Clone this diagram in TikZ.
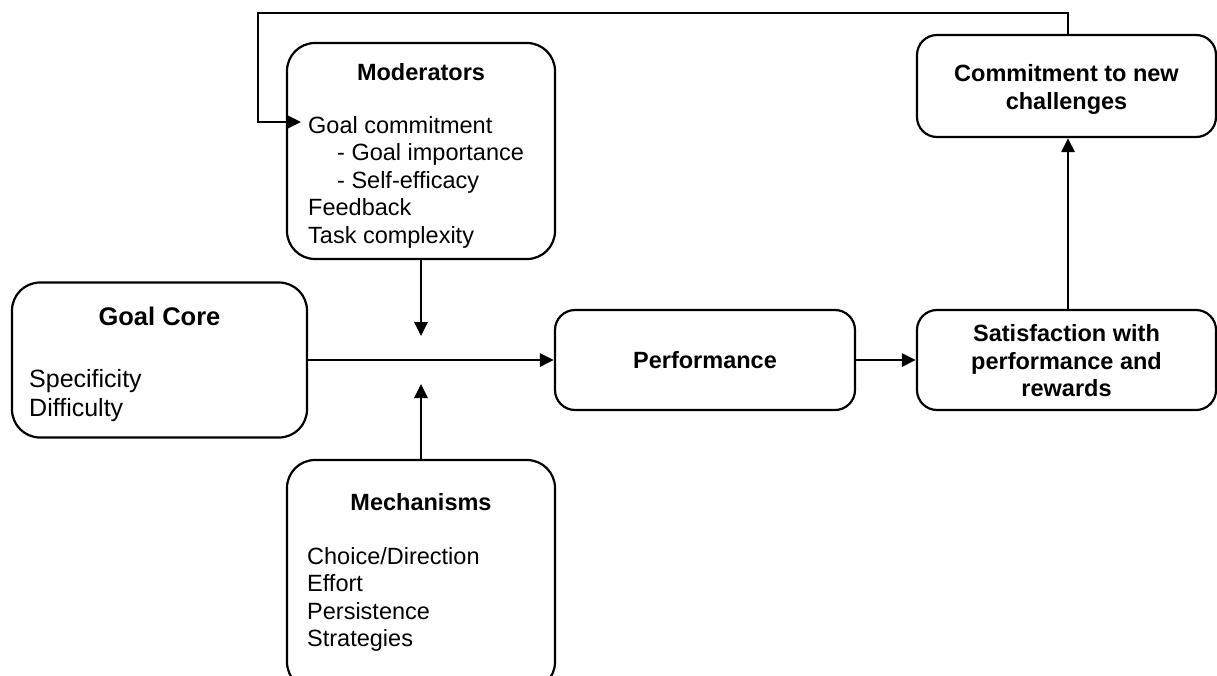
\documentclass[tikz,border=0pt]{standalone}
\usepackage{fontspec}
\setmainfont{Liberation Sans}
\usetikzlibrary{arrows.meta}

\begin{document}
\begin{tikzpicture}[x=1pt,y=-1pt,
  box/.style={draw, line width=2.2pt, rounded corners=#1, inner sep=0pt},
  box/.default=20pt,
  txt/.style={inner sep=0pt, font=\fontsize{23.5}{27.5}\selectfont},
  ttl/.style={inner sep=0pt, font=\fontsize{23.5}{27.5}\selectfont\bfseries},
  gtxt/.style={inner sep=0pt, font=\fontsize{25}{29}\selectfont},
  gttl/.style={inner sep=0pt, font=\fontsize{25.5}{29}\selectfont\bfseries},
  link/.style={line width=2.8pt, -{Triangle[length=14pt,width=13pt]}},
]
\useasboundingbox (0,0) rectangle (1217,675);

% boxes
\node[box=28pt, minimum width=268pt, minimum height=216pt] (mod) at (421,151) {};
\node[box=28pt, minimum width=295pt, minimum height=155pt] (gc) at (159.5,360) {};
\node[box=20pt, minimum width=300pt, minimum height=100pt] (perf) at (705,360) {};
\node[box=20pt, minimum width=299pt, minimum height=100pt] (sat) at (1066.5,360) {};
\node[box=20pt, minimum width=299pt, minimum height=102pt] (com) at (1066.5,86) {};
\node[box=28pt, minimum width=268pt, minimum height=230pt] (mech) at (421,575) {};

% Moderators
\node[ttl, anchor=base] (modt) at (421,80) {Moderators};
\node[txt, anchor=base west] (m1) at (308,133) {Goal commitment};
\node[txt, anchor=base west] (m2) at (337,160.5) {- Goal importance};
\node[txt, anchor=base west] (m3) at (337,188) {- Self-efficacy};
\node[txt, anchor=base west] (m4) at (308,215.5) {Feedback};
\node[txt, anchor=base west] (m5) at (308,243) {Task complexity};

% Goal core
\node[gttl, anchor=base] (gct) at (159.5,325) {Goal Core};
\node[gtxt, anchor=base west] (g1) at (29,387) {Specificity};
\node[gtxt, anchor=base west] (g2) at (29,416) {Difficulty};

% Performance
\node[ttl, anchor=base] (perft) at (705,368) {Performance};

% Satisfaction
\node[ttl, anchor=base] (s1) at (1066.5,341) {Satisfaction with};
\node[ttl, anchor=base] (s2) at (1066.5,369) {performance and};
\node[ttl, anchor=base] (s3) at (1066.5,396) {rewards};

% Commitment
\node[ttl, anchor=base] (c1) at (1066.5,81) {Commitment to new};
\node[ttl, anchor=base] (c2) at (1066.5,109) {challenges};

% Mechanisms
\node[ttl, anchor=base] (mecht) at (421,510) {Mechanisms};
\node[txt, anchor=base west] (k1) at (307,564) {Choice/Direction};
\node[txt, anchor=base west] (k2) at (307,591.5) {Effort};
\node[txt, anchor=base west] (k3) at (307,619) {Persistence};
\node[txt, anchor=base west] (k4) at (307,646) {Strategies};

% connector end points
\coordinate (modtip) at (421,336);
\coordinate (mechtip) at (421,384);
\coordinate (loopin) at (301,122);

% connectors
\draw[link] (gc.east) -- (perf.west);
\draw[link] (mod.south) -- (modtip);
\draw[link] (mech.north) -- (mechtip);
\draw[link] (perf.east) -- (sat.west);
\draw[link] (sat.north -| 1068,0) -- (com.south -| 1068,0);
\draw[link] (com.north -| 1068,0) |- (258,13) |- (loopin);
\end{tikzpicture}
\end{document}
